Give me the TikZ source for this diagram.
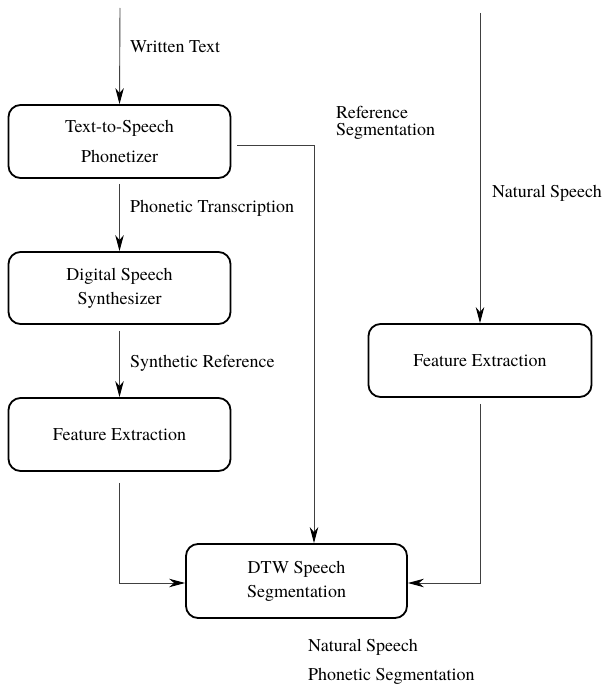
\documentclass[tikz,border=0pt]{standalone}
\usepackage{fontspec}
\setmainfont{texgyretermes}[Extension=.otf, UprightFont=*-regular, BoldFont=*-bold, ItalicFont=*-italic, BoldItalicFont=*-bolditalic]
\usetikzlibrary{arrows.meta,calc}
\begin{document}
\begin{tikzpicture}[x=1pt,y=-1pt,
 box/.style={draw,line width=1.8pt,rounded corners=12pt,align=center,
   font=\fontsize{18}{24}\selectfont, inner sep=0pt},
 conn/.style={line width=0.9pt, draw=black!75, -{Stealth[length=16pt,width=8.5pt,inset=5pt,color=black]}},
 lbl/.style={font=\fontsize{18}{17}\selectfont, anchor=west, inner sep=0pt, align=left}]
\useasboundingbox (0,0) rectangle (607,685);

\node[box, minimum width=222pt, minimum height=73pt] (b1) at (119.5,141.5) {Text-to-Speech\\[6pt]Phonetizer};
\node[box, minimum width=222pt, minimum height=72pt] (b2) at (119.5,288) {Digital Speech\\Synthesizer};
\node[box, minimum width=222pt, minimum height=73pt] (b3) at (119.5,434.5) {Feature Extraction};
\node[box, minimum width=223pt, minimum height=73pt] (b4) at (480,360.5) {Feature Extraction};
\node[box, minimum width=221pt, minimum height=74pt] (dtw) at (296.5,581) {DTW Speech\\Segmentation};

\coordinate (wt) at (120,8);
\coordinate (ns) at (480,13);

\draw[conn] (wt) -- (b1.north);
\draw[conn, shorten <=5pt] (b1.south) -- (b2.north);
\draw[conn, shorten <=6pt] (b2.south) -- (b3.north);
\draw[conn, shorten <=11pt] (b3.south) |- ([yshift=-2pt]dtw.west);
\draw[conn] ([xshift=6pt,yshift=-3.5pt]b1.east) -| ([xshift=17.5pt]dtw.north);
\draw[conn] (ns) -- (b4.north);
\draw[conn, shorten <=6pt] (b4.south) |- ([yshift=-2pt]dtw.east);

\node[lbl] (l1) at (130,47) {Written Text};
\node[lbl] (l2) at (130,208) {Phonetic Transcription};
\node[lbl] (l3) at (130,363) {Synthetic Reference};
\node[lbl] (l4) at (336,123) {Reference\\Segmentation};
\node[lbl] (l5) at (492,193) {Natural Speech};
\node[lbl, font=\fontsize{18}{28.5}\selectfont] (l6) at (308,662) {Natural Speech\\Phonetic Segmentation};
\end{tikzpicture}
\end{document}
